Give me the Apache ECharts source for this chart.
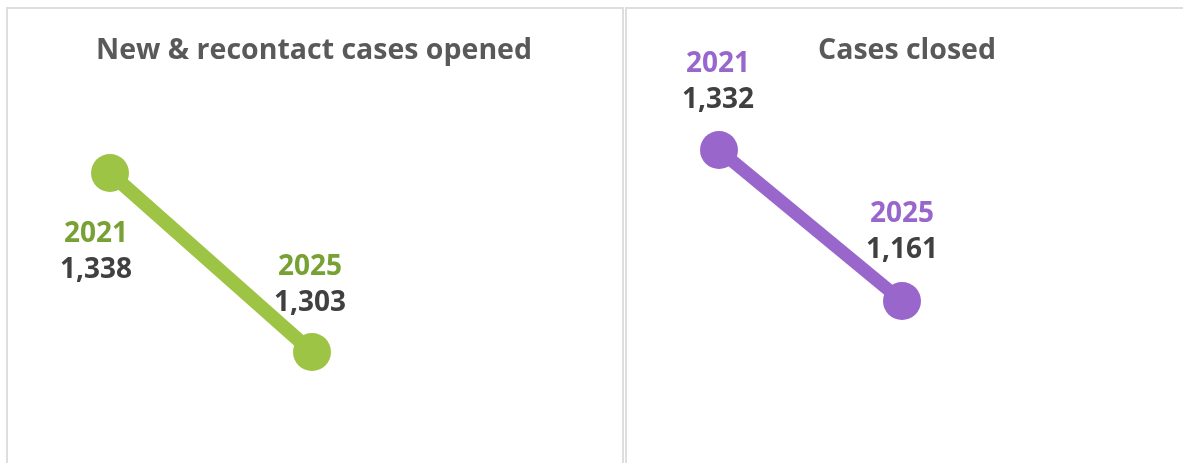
<!DOCTYPE html>
<html>
<head>
<meta charset="utf-8">
<script src="https://cdn.jsdelivr.net/npm/echarts@6/dist/echarts.min.js"></script>
<style>
    html, body { margin: 0; padding: 0; background: #fff; }
    #chart { width: 1183px; height: 463px; }
</style>
</head>
<body>
<div id="chart"></div>
<script>
    // data
    const years = ['2021', '2025'];
    const openedValues = [1338, 1303];
    const closedValues = [1332, 1161];
    const titles = ['New & recontact cases opened', 'Cases closed'];

    const green = '#9dc444';
    const greenText = '#77a133';
    const purple = '#9966cc';
    const valueColor = '#404040';
    const fontFamily = '"Open Sans", "Noto Sans", sans-serif';

    // label block: year on top, value below
    function labelRich(yearColor) {
        return {
            year: { color: yearColor, fontSize: 28, fontWeight: 'bold', fontFamily: fontFamily, lineHeight: 36 },
            val: { color: valueColor, fontSize: 28, fontWeight: 'bold', fontFamily: fontFamily, lineHeight: 36 }
        };
    }

    function makeData(values, offsets) {
        return values.map(function (v, i) {
            return {
                value: v,
                label: { offset: offsets[i] }
            };
        });
    }

    const myChart = echarts.init(document.getElementById('chart'));
    let option = {
        animation: false,
        title: [
            {
                text: titles[0], left: 309, top: 31, textAlign: 'center',
                textStyle: { color: '#595959', fontSize: 28.5, fontWeight: 'bold', fontFamily: fontFamily }
            },
            {
                text: titles[1], left: 902, top: 31, textAlign: 'center',
                textStyle: { color: '#595959', fontSize: 28.5, fontWeight: 'bold', fontFamily: fontFamily }
            }
        ],
        graphic: [
            { type: 'rect', shape: { x: 7, y: 8, width: 616, height: 500 }, style: { fill: 'none', stroke: '#dedede', lineWidth: 2 } },
            { type: 'rect', shape: { x: 626, y: 8, width: 600, height: 500 }, style: { fill: 'none', stroke: '#dedede', lineWidth: 2 } }
        ],
        grid: [
            { left: 110, top: 173, width: 202, height: 179 },
            { left: 719, top: 150, width: 183, height: 151 }
        ],
        xAxis: [
            { type: 'category', gridIndex: 0, data: years, boundaryGap: false, show: false },
            { type: 'category', gridIndex: 1, data: years, boundaryGap: false, show: false }
        ],
        yAxis: [
            { type: 'value', gridIndex: 0, min: 1303, max: 1338, show: false },
            { type: 'value', gridIndex: 1, min: 1161, max: 1332, show: false }
        ],
        series: [
            {
                name: titles[0],
                type: 'line',
                xAxisIndex: 0,
                yAxisIndex: 0,
                symbol: 'circle',
                symbolSize: 38,
                lineStyle: { color: green, width: 14 },
                itemStyle: { color: green },
                label: {
                    show: true,
                    position: 'inside',
                    formatter: function (p) {
                        return '{year|' + years[p.dataIndex] + '}\n{val|' + p.value.toLocaleString('en-US') + '}';
                    },
                    rich: labelRich(greenText)
                },
                data: makeData(openedValues, [[-14, 79], [-2, -67]])
            },
            {
                name: titles[1],
                type: 'line',
                xAxisIndex: 1,
                yAxisIndex: 1,
                symbol: 'circle',
                symbolSize: 38,
                lineStyle: { color: purple, width: 13 },
                itemStyle: { color: purple },
                label: {
                    show: true,
                    position: 'inside',
                    formatter: function (p) {
                        return '{year|' + years[p.dataIndex] + '}\n{val|' + p.value.toLocaleString('en-US') + '}';
                    },
                    rich: labelRich(purple)
                },
                data: makeData(closedValues, [[-1, -68], [0, -69]])
            }
        ]
    };
    myChart.setOption(option);
</script>
</body>
</html>
